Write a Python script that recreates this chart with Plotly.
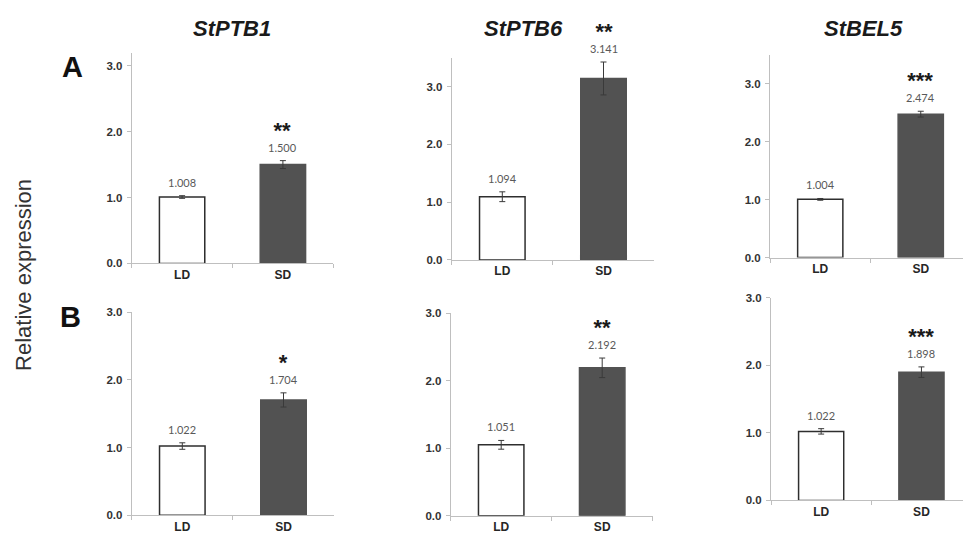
import plotly.graph_objects as go

W, H = 963, 540

genes = ["StPTB1", "StPTB6", "StBEL5"]
categories = ["LD", "SD"]
row_letters = ["A", "B"]

# Row A values / errors
A_values = [[1.008, 1.500], [1.094, 3.141], [1.004, 2.474]]
A_errors = [[0.02, 0.06], [0.085, 0.285], [0.015, 0.05]]
A_stars = ["**", "**", "***"]
# Row B values / errors
B_values = [[1.022, 1.704], [1.051, 2.192], [1.022, 1.898]]
B_errors = [[0.048, 0.105], [0.065, 0.145], [0.04, 0.078]]
B_stars = ["*", "**", "***"]

y_max = [[3.2, 3.5, 3.5], [3.0, 3.0, 3.0]]
tick_labels = ["0.0", "1.0", "2.0", "3.0"]
tick_vals = [0, 1, 2, 3]

# pixel layout (left, right, top, bottom) per panel
px = [
    [(131.7, 333.3, 47.6, 263.3), (451.7, 654.0, 52.9, 259.7), (770.0, 963.0, 49.75, 257.3)],
    [(131.7, 334.0, 313.3, 520.7), (450.7, 652.7, 314.3, 521.3), (771.0, 963.0, 298.3, 505.7)],
]
cat_px = [[100.8, 101.2, 100.5], [101.2, 101.0, 100.3]]

fig = go.Figure()
annotations = []
layout = {}

rows = [(A_values, A_errors, A_stars), (B_values, B_errors, B_stars)]
idx = 0
for r, (vals_r, errs_r, stars_r) in enumerate(rows):
    for c in range(3):
        idx += 1
        xa = "x" if idx == 1 else f"x{idx}"
        ya = "y" if idx == 1 else f"y{idx}"
        xkey = "xaxis" if idx == 1 else f"xaxis{idx}"
        ykey = "yaxis" if idx == 1 else f"yaxis{idx}"
        l, rr, t, b = px[r][c]
        xr_hi = -0.5 + (rr - l) / cat_px[r][c]
        vals = vals_r[c]
        errs = errs_r[c]
        fig.add_trace(go.Bar(
            x=categories, y=vals,
            error_y=dict(type="data", array=errs, color="#3a3a3a", thickness=1, width=3),
            marker=dict(color=["white", "#525252"], line=dict(color=["#2e2e2e", "#525252"], width=1.5)),
            width=0.45, xaxis=xa, yaxis=ya, showlegend=False, hoverinfo="skip",
        ))
        layout[xkey] = dict(
            domain=[l / W, rr / W], anchor=ya, range=[-0.5, xr_hi],
            type="category", tickson="boundaries", ticks="outside", ticklen=4,
            tickcolor="#bfbfbf", showline=True, linecolor="#bfbfbf", linewidth=1,
            showgrid=False, zeroline=False, fixedrange=True,
            tickfont=dict(family="Liberation Sans", size=12, color="#262626", weight="bold"),
        )
        layout[ykey] = dict(
            domain=[1 - b / H, 1 - t / H], anchor=xa, range=[0, y_max[r][c]],
            tickvals=tick_vals, ticktext=tick_labels, ticks="outside", ticklen=4,
            tickcolor="#bfbfbf", showline=True, linecolor="#bfbfbf", linewidth=1,
            showgrid=False, zeroline=False, fixedrange=True, ticklabelstandoff=2,
            tickfont=dict(family="Liberation Sans", size=11.5, color="#333333", weight="bold"),
        )
        for k, cat in enumerate(categories):
            label = f"{vals[k]:.3f}"
            if k == 1:
                label = (f"<span style='font-size:22px;color:#1a1a1a;font-family:Liberation Sans'>"
                         f"<b>{stars_r[c]}</b></span><br>{label}")
            annotations.append(dict(
                x=cat, y=vals[k] + errs[k], xref=xa, yref=ya, text=label,
                showarrow=False, yanchor="bottom", yshift=5, align="center",
                font=dict(family="Lato", size=11, color="#595959"),
            ))

title_x = [232, 523, 863]
for g, tx in zip(genes, title_x):
    annotations.append(dict(
        x=tx / W, y=1 - 23 / H, xref="paper", yref="paper", text=f"<b><i>{g}</i></b>",
        showarrow=False, xanchor="center", yanchor="middle",
        font=dict(family="Liberation Sans", size=22, color="#1a1a1a"),
    ))

for letter, (lx, ly) in zip(row_letters, [(72, 62), (70, 318)]):
    annotations.append(dict(
        x=lx / W, y=1 - ly / H, xref="paper", yref="paper", text=f"<b>{letter}</b>",
        showarrow=False, xanchor="center", yanchor="middle",
        font=dict(family="Liberation Sans", size=29, color="#111111"),
    ))

annotations.append(dict(
    x=24 / W, y=1 - 275 / H, xref="paper", yref="paper", text="Relative expression",
    showarrow=False, xanchor="center", yanchor="middle", textangle=-90,
    font=dict(family="Liberation Sans", size=22, color="#333333"),
))

fig.update_layout(
    width=W, height=H, margin=dict(l=0, r=0, t=0, b=0),
    paper_bgcolor="white", plot_bgcolor="white",
    annotations=annotations, bargap=0.55, **layout,
)

fig.write_html(
    "out.html",
    config={"displayModeBar": False},
    post_script="document.body.style.margin='0';document.body.style.overflow='hidden';",
)
